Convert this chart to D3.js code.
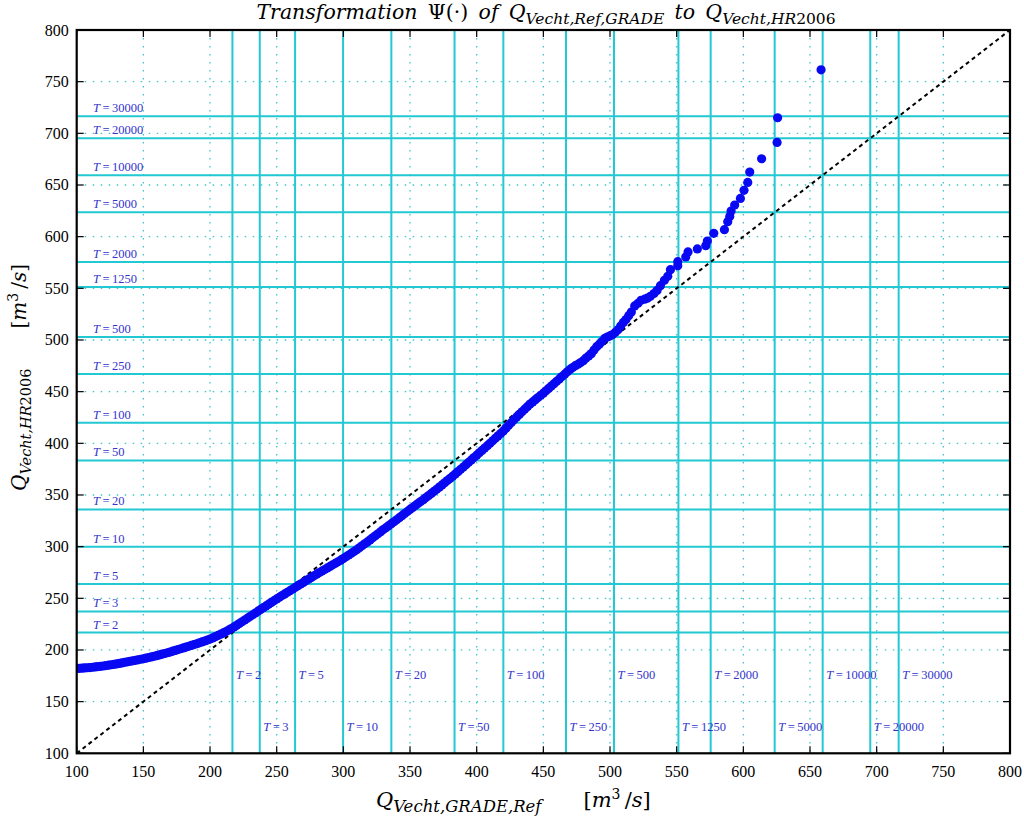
<!DOCTYPE html>
<html><head><meta charset="utf-8">
<script src="https://cdn.jsdelivr.net/npm/d3@7"></script>
<style>
html,body{margin:0;padding:0;background:#fff;}
svg{display:block;}
text{font-family:"Liberation Serif","DejaVu Serif",serif;}
.math{font-family:"DejaVu Serif",serif;}
</style></head>
<body>
<svg id="chart" width="1024" height="819"></svg>
<script>
// ---------- data ----------
const xTicks = [100,150,200,250,300,350,400,450,500,550,600,650,700,750,800];
const yTicks = [100,150,200,250,300,350,400,450,500,550,600,650,700,750,800];
const returnPeriods = ["2","3","5","10","20","50","100","250","500","1250","2000","5000","10000","20000","30000"];
const returnLevels = [216.8,237.3,263.8,299.8,336.0,383.4,420.0,467.0,503.0,551.3,575.5,623.5,659.5,695.2,716.5];
const qRef = [100,102,104,106,108,110,112,114,116,118,120,122,124,126,128,130,132,134,136,138,140,142,144,146,148,150,152,154,156,158,160,162,164,166,168,170,172,174,176,178,180,182,184,186,188,190,192,194,196,198,200,202,204,206,208,210,212,214,216,218,220,222,224,226,228,230,232,234,236,238,240,242,244,246,248,250,252,254,256,258,260,262,264,266,268,270,272,274,276,278,280,282,284,286,288,290,292,294,296,298,300,302,304,306,308,310,312,314,316,318,320,322,324,326,328,330,332,334,336,338,340,342,344,346,348,350,352,354,356,358,360,362,364,366,368,370,372,374,376,378,380,382,384,386,388,390,392,394,396,398,400,402,404,406,408,410,412,414,416,418,420,422,424,426,428,430,432,434,436,438,440,442,444,446,448,450,452,454,456,458,460,462,464,466,468,470,472,474,476,478,480,482,484,486,488,490,492,494,496,498,500,502,504,506,508,510,512,514,516,518.5,521,523.3,526,528,530.3,533,535.3,537.8,540.8,543.3,545.3,550.8,550.8,556.8,558.5,565.5,571.8,573,577.8,585.8,588.3,589.8,590.8,593.5,597.8,600.5,603.3,604.8,613.7,625.3,625.7,658.3];
const qHR = [182.0,182.2,182.4,182.6,182.8,183.0,183.3,183.6,183.9,184.2,184.5,184.9,185.3,185.7,186.1,186.5,187.0,187.5,188.0,188.5,189.0,189.5,190.0,190.5,191.0,191.5,192.1,192.7,193.3,193.9,194.5,195.2,195.9,196.6,197.3,198.0,198.8,199.6,200.4,201.2,202.0,202.8,203.6,204.4,205.2,206.0,206.9,207.8,208.7,209.6,210.5,211.7,212.9,214.1,215.3,216.5,217.9,219.3,220.7,222.3,223.9,225.6,227.3,229.0,230.7,232.4,234.1,235.8,237.5,239.2,240.9,242.6,244.3,246.0,247.7,249.4,251.0,252.6,254.2,255.8,257.4,259.0,260.6,262.2,263.8,265.4,267.0,268.6,270.2,271.8,273.4,274.9,276.4,277.9,279.4,280.9,282.4,283.9,285.4,286.9,288.5,290.2,291.9,293.6,295.3,297.0,298.9,300.8,302.7,304.6,306.5,308.5,310.5,312.5,314.5,316.5,318.4,320.3,322.2,324.1,326.0,328.0,330.0,332.0,334.0,336.0,337.9,339.8,341.7,343.6,345.5,347.5,349.5,351.5,353.5,355.5,357.6,359.7,361.8,363.9,366.0,368.2,370.4,372.6,374.8,377.0,379.3,381.6,383.9,386.2,388.5,390.8,393.1,395.4,397.7,400.0,402.4,404.8,407.2,409.6,412.0,414.7,417.4,420.1,422.8,425.5,428.0,430.5,433.0,435.5,438.0,440.1,442.2,444.3,446.4,448.5,450.8,453.1,455.4,457.7,460.0,462.3,464.6,466.9,469.2,471.5,473.3,475.1,476.5,478.2,480.0,482.5,484.6,486.8,490.2,493.5,495.8,498.5,501.5,502.8,504.0,505.2,507.5,510.0,513.5,517.0,519.8,523.5,527.0,533.0,535.5,538.4,539.5,540.5,542.3,545.0,548.0,552.6,557.7,561.6,568.0,571.9,575.8,580.3,585.2,588.1,591.3,595.8,603.2,606.8,614.5,619.6,624.8,630.6,637.0,644.8,652.5,662.5,675.4,691.2,715.1,761.5];
const diagonal = [100, 800];

// ---------- layout ----------
const L = 76.7, R = 1010, T = 30, B = 753.3;
const x = d3.scaleLinear().domain([100, 800]).range([L, R]);
const y = d3.scaleLinear().domain([100, 800]).range([B, T]);
const svg = d3.select("#chart");
const cyan = "#22c8d2", gridC = "#3cc4c8", lblC = "#3434cc", ptC = "#0808f2";

svg.append("defs").append("clipPath").attr("id","clip")
  .append("rect").attr("x",L).attr("y",T).attr("width",R-L).attr("height",B-T);

const plot = svg.append("g").attr("clip-path","url(#clip)");

// dotted grid
plot.selectAll(".gx").data(xTicks).join("line")
  .attr("x1",d=>x(d)).attr("x2",d=>x(d)).attr("y1",T).attr("y2",B)
  .attr("stroke",gridC).attr("stroke-width",1.3).attr("stroke-dasharray","1.5,6.5");
plot.selectAll(".gy").data(yTicks).join("line")
  .attr("y1",d=>y(d)).attr("y2",d=>y(d)).attr("x1",L).attr("x2",R)
  .attr("stroke",gridC).attr("stroke-width",1.3).attr("stroke-dasharray","1.5,6.5");

// return level lines
plot.selectAll(".rv").data(returnLevels).join("line")
  .attr("x1",d=>x(d)).attr("x2",d=>x(d)).attr("y1",T).attr("y2",B)
  .attr("stroke",cyan).attr("stroke-width",2);
plot.selectAll(".rh").data(returnLevels).join("line")
  .attr("y1",d=>y(d)).attr("y2",d=>y(d)).attr("x1",L).attr("x2",R)
  .attr("stroke",cyan).attr("stroke-width",2);

// diagonal
plot.append("line")
  .attr("x1",x(diagonal[0])).attr("y1",y(diagonal[0]))
  .attr("x2",x(diagonal[1])).attr("y2",y(diagonal[1]))
  .attr("stroke","#000").attr("stroke-width",2).attr("stroke-dasharray","4,3.5");

// points
plot.selectAll(".pt").data(qRef).join("circle")
  .attr("cx",d=>x(d)).attr("cy",(d,i)=>y(qHR[i])).attr("r",4.6)
  .attr("fill",ptC);

// labels
function tLabel(g, px, py, per){
  const t = g.append("text").attr("x",px).attr("y",py)
    .attr("font-size",12.5).attr("fill",lblC);
  t.append("tspan").attr("font-style","italic").text("T");
  t.append("tspan").text("\u2009=\u2009" + per);
}
const lg = svg.append("g");
returnLevels.forEach((lv,i)=>{
  tLabel(lg, x(112.2), y(lv)-4, returnPeriods[i]);
  const yy = (i % 2 === 0) ? 172 : 121.5;
  tLabel(lg, x(lv)+3.5, y(yy), returnPeriods[i]);
});

// frame
svg.append("rect").attr("x",L).attr("y",T).attr("width",R-L).attr("height",B-T)
  .attr("fill","none").attr("stroke","#000").attr("stroke-width",2.2);

// ticks (inward, all sides)
const tk = svg.append("g").attr("stroke","#000").attr("stroke-width",1.2);
xTicks.forEach(v=>{
  tk.append("line").attr("x1",x(v)).attr("x2",x(v)).attr("y1",B).attr("y2",B-7);
  tk.append("line").attr("x1",x(v)).attr("x2",x(v)).attr("y1",T).attr("y2",T+7);
});
yTicks.forEach(v=>{
  tk.append("line").attr("y1",y(v)).attr("y2",y(v)).attr("x1",L).attr("x2",L+7);
  tk.append("line").attr("y1",y(v)).attr("y2",y(v)).attr("x1",R).attr("x2",R-7);
});

// tick labels
svg.append("g").selectAll("text").data(xTicks).join("text")
  .attr("x",d=>x(d)).attr("y",B+24).attr("text-anchor","middle")
  .attr("font-size",16).text(d=>d);
svg.append("g").selectAll("text").data(yTicks).join("text")
  .attr("x",L-8).attr("y",d=>y(d)+5.5).attr("text-anchor","end")
  .attr("font-size",16).text(d=>d);

// title
const title = svg.append("text").attr("class","math").attr("x",546).attr("y",19)
  .attr("text-anchor","middle").attr("font-size",20.5);
title.append("tspan").attr("font-style","italic").text("Transformation\u2002");
title.append("tspan").text("\u03A8(\u00B7)\u2002");
title.append("tspan").attr("font-style","italic").text("of\u2002Q");
title.append("tspan").attr("font-style","italic").attr("font-size",15.5).attr("dy",5).text("Vecht,Ref,GRADE");
title.append("tspan").attr("font-style","italic").attr("dy",-5).text("\u2002to\u2002Q");
title.append("tspan").attr("font-style","italic").attr("font-size",15.5).attr("dy",5).text("Vecht,HR");
title.append("tspan").attr("font-size",15.5).text("2006");

// x label
const xl = svg.append("text").attr("class","math").attr("x",376).attr("y",807)
  .attr("text-anchor","start").attr("font-size",21);
xl.append("tspan").attr("font-style","italic").text("Q");
xl.append("tspan").attr("font-style","italic").attr("font-size",16.5).attr("dy",5).text("Vecht,GRADE,Ref");
xl.append("tspan").attr("dy",-5).text("\u2003\u2003[");
xl.append("tspan").attr("font-style","italic").text("m");
xl.append("tspan").attr("font-size",14).attr("dy",-8).text("3");
xl.append("tspan").attr("dy",8).text("\u2009/");
xl.append("tspan").attr("font-style","italic").text("s");
xl.append("tspan").text("]");

// y label
const yl = svg.append("text").attr("class","math").attr("transform",`translate(26,491) rotate(-90)`)
  .attr("text-anchor","start").attr("font-size",20);
yl.append("tspan").attr("font-style","italic").text("Q");
yl.append("tspan").attr("font-style","italic").attr("font-size",14.5).attr("dy",5).text("Vecht,HR");
yl.append("tspan").attr("font-size",14.5).text("2006");
yl.append("tspan").attr("dy",-5).text("\u2003\u2003[");
yl.append("tspan").attr("font-style","italic").text("m");
yl.append("tspan").attr("font-size",14).attr("dy",-8).text("3");
yl.append("tspan").attr("dy",8).text("\u2009/");
yl.append("tspan").attr("font-style","italic").text("s");
yl.append("tspan").text("]");
</script>
</body></html>
